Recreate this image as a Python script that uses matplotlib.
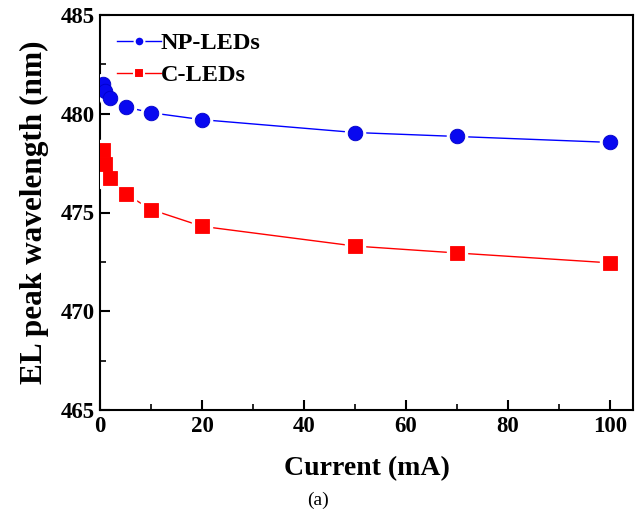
import matplotlib
matplotlib.use("Agg")
import matplotlib.pyplot as plt
from matplotlib.ticker import MultipleLocator

# Data
current_ma = [0.5, 1, 2, 5, 10, 20, 50, 70, 100]
np_leds = [481.5, 481.15, 480.8, 480.35, 480.05, 479.7, 479.05, 478.85, 478.55]
c_leds = [478.15, 477.45, 476.75, 475.95, 475.15, 474.3, 473.3, 472.95, 472.45]

BLUE = "#0808f0"
RED = "#ff0000"

plt.rcParams["font.family"] = ["Liberation Serif", "DejaVu Serif"]
plt.rcParams["font.weight"] = "bold"

fig = plt.figure(figsize=(6.35, 5.18), dpi=100)
ax = fig.add_axes([100 / 635, 108 / 518, 533 / 635, 395 / 518])

# connecting lines, then a white halo under each marker so the line stops short of it
for y, col, mk in [(np_leds, "#0000ff", "o"), (c_leds, RED, "s")]:
    ax.plot(current_ma, y, color=col, linewidth=1.0, zorder=2)
    ax.plot(current_ma, y, linestyle="none", marker=mk, markersize=14.5,
            markerfacecolor="white", markeredgecolor="white", zorder=3)

ax.plot(current_ma, np_leds, linestyle="none", marker="o", markersize=10.5,
        markerfacecolor=BLUE, markeredgecolor="#0000c8", markeredgewidth=0.6, zorder=4)
ax.plot(current_ma, c_leds, linestyle="none", marker="s", markersize=10.5,
        markerfacecolor=RED, markeredgecolor=RED, markeredgewidth=0.6, zorder=4)

# legend entries
ax.plot([], [], color="#0000ff", linewidth=1.0, marker="o", markersize=7,
        markerfacecolor=BLUE, markeredgecolor="white", markeredgewidth=1.5, label="NP-LEDs")
ax.plot([], [], color=RED, linewidth=1.0, marker="s", markersize=7,
        markerfacecolor=RED, markeredgecolor="white", markeredgewidth=1.5, label="C-LEDs")

ax.set_xlim(0, 104.5)
ax.set_ylim(465, 485)
ax.xaxis.set_major_locator(MultipleLocator(20))
ax.xaxis.set_minor_locator(MultipleLocator(10))
ax.yaxis.set_major_locator(MultipleLocator(5))
ax.yaxis.set_minor_locator(MultipleLocator(2.5))
ax.tick_params(which="major", direction="in", length=7, width=1.5, labelsize=16.5, pad=4)
ax.tick_params(which="minor", direction="in", length=4, width=1.2)
for lbl in ax.get_xticklabels() + ax.get_yticklabels():
    lbl.set_fontweight("bold")
for sp in ax.spines.values():
    sp.set_linewidth(1.5)

ax.set_xlabel("Current (mA)", fontsize=20, fontweight="bold", labelpad=14)
ax.set_ylabel("EL peak wavelength (nm)", fontsize=22.5, fontweight="bold", labelpad=8)

ax.legend(loc="upper left", frameon=False, prop={"size": 17.5, "weight": "bold"},
          handlelength=1.8, handletextpad=0.0, borderaxespad=0.3,
          borderpad=0.4, labelspacing=0.42)

fig.text(318 / 635, 1 - 500 / 518, "(a)", ha="center", va="center",
         fontsize=14, fontweight="normal")

fig.savefig("out.png", dpi=100)
